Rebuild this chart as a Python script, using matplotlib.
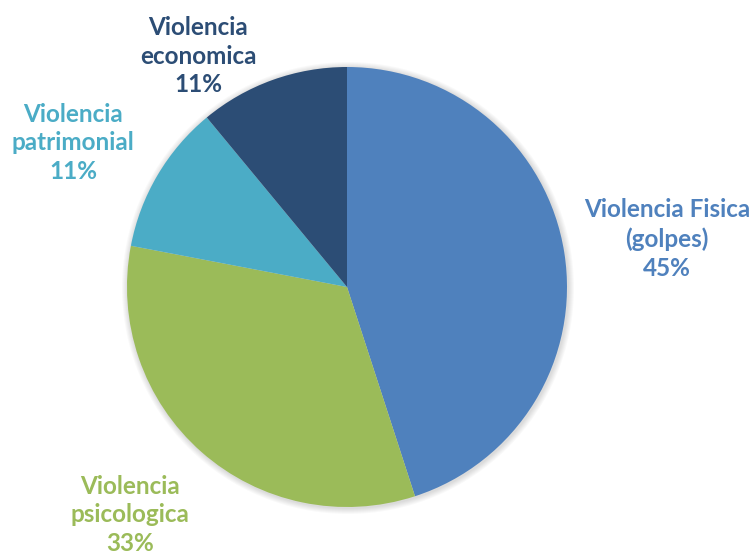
import numpy as np
import matplotlib.pyplot as plt
from matplotlib.patches import Circle

# datos del grafico
categorias = ["Violencia Fisica\n(golpes)", "Violencia\npsicologica",
              "Violencia\npatrimonial", "Violencia\neconomica"]
porcentajes = [45, 33, 11, 11]
colores = ["#4F81BD", "#9BBB59", "#4BACC6", "#2C4D75"]

# posicion de las etiquetas (pixeles, origen arriba a la izquierda)
pos_etiquetas = [(667, 239), (130, 515), (73, 143), (198, 56)]

W, H = 755, 557
fig = plt.figure(figsize=(W / 100, H / 100), dpi=100)
ax = fig.add_axes([0, 0, 1, 1])

centro = (347, H - 287)
radio = 220

# sombra suave
for k in range(1, 7):
    ax.add_patch(Circle((centro[0] + 1, centro[1] - 1), radio + k, color="black",
                        alpha=0.025, lw=0, zorder=0))

ax.pie(porcentajes, colors=colores, startangle=90, counterclock=False,
       center=centro, radius=radio, frame=True,
       wedgeprops=dict(linewidth=0, zorder=1))
ax.set_xlim(0, W)
ax.set_ylim(0, H)
ax.set_aspect("equal")
ax.axis("off")

for cat, p, c, (x, y) in zip(categorias, porcentajes, colores, pos_etiquetas):
    ax.text(x, H - y, cat + "\n" + str(p) + "%", color=c, ha="center", va="center",
            fontsize=17.5, fontweight="bold", family=["Lato", "DejaVu Sans"],
            linespacing=1.3)

fig.savefig("out.png", dpi=100)
